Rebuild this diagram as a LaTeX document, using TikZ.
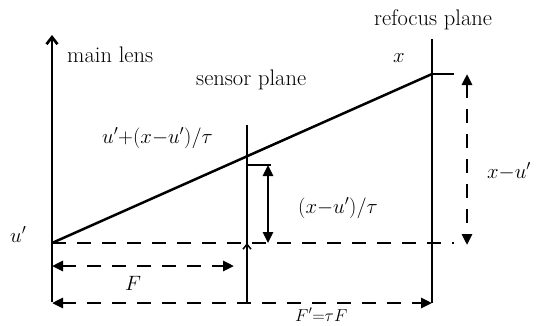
\documentclass[tikz,border=0pt]{standalone}
\usetikzlibrary{arrows.meta}
\tikzset{tri/.tip={Triangle[length=11pt,width=10pt]},
  barb/.tip={Straight Barb[length=7pt,width=11pt]},
  smallbarb/.tip={Straight Barb[length=5pt,width=8pt]}}
\begin{document}
\begin{tikzpicture}[x=1pt,y=-1pt,
  solidline/.style={line width=2.7pt},
  dashline/.style={line width=2.7pt,dash pattern=on 14pt off 11pt},
  lbl/.style={inner sep=0pt,font=\fontsize{22.5}{26}\selectfont},
  mlbl/.style={inner sep=0pt,font=\fontsize{21}{25}\selectfont}]
\useasboundingbox (0,0) rectangle (543,325);
% key points
\coordinate (lensBot) at (52,302);
\coordinate (lensTop) at (52,35);
\coordinate (uP) at (52,243);
\coordinate (senBot) at (247,302);
\coordinate (senTop) at (247,125);
\coordinate (senTick) at (247,165);
\coordinate (senTickEnd) at (271,165);
\coordinate (refBot) at (432,303);
\coordinate (refTop) at (432,39);
\coordinate (xP) at (432,74);
\coordinate (xTickEnd) at (454,74);
\coordinate (dashEnd) at (454,243);
\coordinate (sArrTop) at (268,165);
\coordinate (sArrBot) at (268,243);
\coordinate (bArrTop) at (467,74);
\coordinate (bArrBot) at (467,245);
\coordinate (fL) at (52,266);
\coordinate (fR) at (234,266);
\coordinate (fpL) at (52,303);
\coordinate (fpR) at (432,303);
\coordinate (senArr) at (247,243);
\coordinate (senArrFrom) at (247,244);
% planes
\draw[solidline,-barb] (lensBot) -- (lensTop);
\draw[solidline] (senBot) -- (senTop);
\draw[solidline] (refBot) -- (refTop);
% ray
\draw[line width=2.5pt] (uP) -- (xP);
\draw[line width=2.3pt] (senTick) -- (senTickEnd);
\draw[line width=2.3pt] (xP) -- (xTickEnd);
% dashed base
\draw[dashline] (uP) -- (dashEnd);
\draw[line width=1.5pt,-smallbarb] (senArrFrom) -- (senArr);
% dimension arrows
\draw[line width=2.5pt,tri-tri] (sArrTop) -- (sArrBot);
\draw[dashline,tri-tri] (bArrTop) -- (bArrBot);
\draw[dashline,tri-tri] (fL) -- (fR);
\draw[dashline,tri-tri] (fpL) -- (fpR);
% labels
\node[lbl,anchor=base west] (tMain) at (67,62) {main lens};
\node[lbl,anchor=base west] (tSen) at (196,85) {sensor plane};
\node[lbl,anchor=base west] (tRef) at (374,25) {refocus plane};
\node[mlbl,anchor=base] (tx) at (399,62) {$x$};
\node[mlbl,anchor=base west] (tU1) at (102,143) {$u'{+}(x{-}u')/\tau$};
\node[mlbl,anchor=base west] (tU) at (10,242) {$u'$};
\node[mlbl,anchor=base] (tF) at (133,290) {$F$};
\node[mlbl,anchor=base west] (tXT) at (298,213) {$(x{-}u')/\tau$};
\node[mlbl,anchor=base west] (tXU) at (487,178) {$x{-}u'$};
\node[inner sep=0pt,font=\fontsize{18}{21}\selectfont,anchor=base west] (tFp) at (295,321) {$F'{=}\tau F$};
\end{tikzpicture}
\end{document}
